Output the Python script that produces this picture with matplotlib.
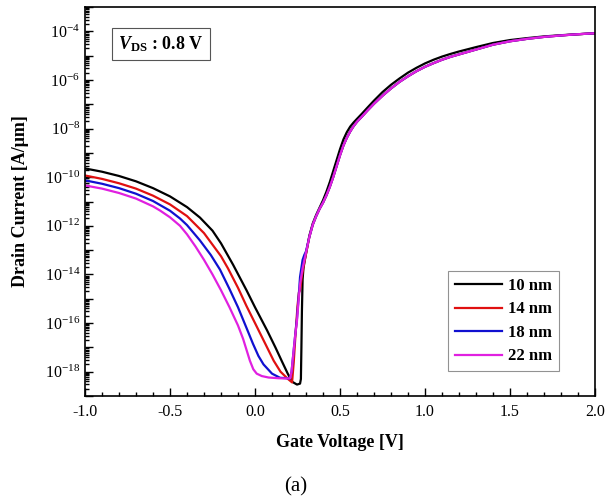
import numpy as np
import matplotlib
matplotlib.use("Agg")
import matplotlib.pyplot as plt
from matplotlib.ticker import LogLocator, FixedLocator, MultipleLocator, FuncFormatter, NullFormatter

plt.rcParams['font.family'] = ['Liberation Serif', 'DejaVu Serif']
plt.rcParams['mathtext.fontset'] = 'custom'
plt.rcParams['mathtext.rm'] = 'Liberation Serif'
plt.rcParams['mathtext.it'] = 'Liberation Serif:italic:bold'
plt.rcParams['mathtext.bf'] = 'Liberation Serif:bold'

# ---- data (gate voltage [V], log10 of drain current [A/um]) ----
v_10nm = [-1.0, -0.9, -0.8, -0.7, -0.6, -0.5, -0.4, -0.324, -0.25, -0.2, -0.129, -0.05, 0.0, 0.071,
          0.12, 0.16, 0.194, 0.22, 0.247, 0.265, 0.27, 0.273, 0.276, 0.28, 0.285, 0.292,
          0.30, 0.32, 0.34, 0.36, 0.38, 0.40, 0.42, 0.44, 0.46, 0.48, 0.50, 0.52, 0.54, 0.56, 0.58,
          0.60, 0.63, 0.66, 0.70, 0.75, 0.80, 0.85, 0.90, 0.95, 1.00, 1.05, 1.10, 1.15, 1.20, 1.30,
          1.40, 1.50, 1.60, 1.70, 1.80, 1.90, 2.00]
log_i_10nm = [-9.64, -9.775, -9.95, -10.17, -10.45, -10.79, -11.23, -11.66, -12.2, -12.72, -13.6, -14.65, -15.35, -16.3,
              -17.0, -17.6, -18.1, -18.42, -18.53, -18.49, -18.3, -17.0, -15.5, -14.2, -13.75, -13.45,
              -13.15, -12.4, -11.9, -11.55, -11.25, -10.95, -10.6, -10.2, -9.75, -9.3, -8.85, -8.45, -8.15, -7.92, -7.75,
              -7.6, -7.38, -7.15, -6.85, -6.5, -6.2, -5.94, -5.7, -5.5, -5.32, -5.17, -5.04, -4.93, -4.83, -4.65,
              -4.48, -4.36, -4.28, -4.21, -4.16, -4.12, -4.08]

v_14nm = [-1.0, -0.9, -0.8, -0.7, -0.6, -0.5, -0.4, -0.3, -0.2, -0.159, -0.1, -0.05, 0.0, 0.071,
          0.11, 0.15, 0.194, 0.218, 0.228, 0.238, 0.25, 0.258, 0.265, 0.275, 0.29,
          0.30, 0.32, 0.34, 0.36, 0.38, 0.40, 0.42, 0.44, 0.46, 0.48, 0.50, 0.52, 0.54, 0.56, 0.58,
          0.60, 0.63, 0.66, 0.70, 0.75, 0.80, 0.85, 0.90, 0.95, 1.00, 1.05, 1.10, 1.15, 1.20, 1.30,
          1.40, 1.50, 1.60, 1.70, 1.80, 1.90, 2.00]
log_i_14nm = [-9.93, -10.07, -10.25, -10.47, -10.76, -11.12, -11.6, -12.3, -13.25, -13.75, -14.55, -15.3, -16.0, -17.0,
              -17.55, -18.0, -18.3, -18.44, -17.6, -16.5, -15.3, -14.75, -14.65, -14.1, -13.5,
              -13.15, -12.45, -11.95, -11.6, -11.3, -11.05, -10.75, -10.4, -10.0, -9.55, -9.1, -8.7, -8.38, -8.12, -7.9,
              -7.72, -7.5, -7.27, -6.98, -6.65, -6.35, -6.08, -5.85, -5.64, -5.46, -5.31, -5.17, -5.05, -4.95, -4.75,
              -4.55, -4.41, -4.31, -4.23, -4.17, -4.12, -4.08]

v_18nm = [-1.0, -0.9, -0.8, -0.7, -0.6, -0.5, -0.441, -0.4, -0.324, -0.26, -0.206, -0.15, -0.1, -0.05, -0.012,
          0.02, 0.05, 0.1, 0.147, 0.206, 0.215, 0.225, 0.235, 0.247, 0.256, 0.265, 0.28, 0.29,
          0.30, 0.32, 0.34, 0.36, 0.38, 0.40, 0.42, 0.44, 0.46, 0.48, 0.50, 0.52, 0.54, 0.56, 0.58,
          0.60, 0.63, 0.66, 0.70, 0.75, 0.80, 0.85, 0.90, 0.95, 1.00, 1.05, 1.10, 1.15, 1.20, 1.30,
          1.40, 1.50, 1.60, 1.70, 1.80, 1.90, 2.00]
log_i_18nm = [-10.13, -10.27, -10.45, -10.68, -10.98, -11.38, -11.7, -11.97, -12.6, -13.2, -13.8, -14.6, -15.35, -16.2, -16.85,
              -17.35, -17.7, -18.08, -18.25, -18.28, -18.0, -17.3, -16.6, -15.8, -15.0, -14.1, -13.4, -13.2,
              -13.05, -12.45, -11.95, -11.6, -11.3, -11.05, -10.75, -10.4, -10.0, -9.55, -9.1, -8.7, -8.38, -8.12, -7.9,
              -7.72, -7.5, -7.27, -6.98, -6.65, -6.35, -6.08, -5.85, -5.64, -5.46, -5.31, -5.17, -5.05, -4.95, -4.75,
              -4.55, -4.41, -4.31, -4.23, -4.17, -4.12, -4.08]

v_22nm = [-1.0, -0.9, -0.8, -0.7, -0.6, -0.559, -0.5, -0.441, -0.4, -0.35, -0.3, -0.25, -0.2, -0.15, -0.1,
          -0.07, -0.05, -0.03, -0.01, 0.01, 0.04, 0.08, 0.14, 0.206, 0.215, 0.225, 0.235, 0.247, 0.256,
          0.265, 0.28, 0.30, 0.32, 0.34, 0.36, 0.38, 0.40, 0.42, 0.44, 0.46, 0.48, 0.50, 0.52, 0.54, 0.56, 0.58,
          0.60, 0.63, 0.66, 0.70, 0.75, 0.80, 0.85, 0.90, 0.95, 1.00, 1.05, 1.10, 1.15, 1.20, 1.30,
          1.40, 1.50, 1.60, 1.70, 1.80, 1.90, 2.00]
log_i_22nm = [-10.34, -10.47, -10.65, -10.88, -11.2, -11.37, -11.65, -12.0, -12.35, -12.85, -13.4, -14.0, -14.65, -15.35, -16.1,
              -16.65, -17.1, -17.55, -17.9, -18.08, -18.18, -18.24, -18.27, -18.28, -18.0, -17.3, -16.6, -15.9, -15.1,
              -14.4, -13.75, -13.1, -12.45, -11.95, -11.6, -11.3, -11.05, -10.75, -10.4, -10.0, -9.55, -9.1, -8.7, -8.38, -8.12, -7.9,
              -7.72, -7.5, -7.27, -6.98, -6.65, -6.35, -6.08, -5.85, -5.64, -5.46, -5.31, -5.17, -5.05, -4.95, -4.75,
              -4.55, -4.41, -4.31, -4.23, -4.17, -4.12, -4.08]

labels = ['10 nm', '14 nm', '18 nm', '22 nm']
colors = ['#000000', '#e01010', '#1010d0', '#e020e0']

series = [(v_10nm, log_i_10nm), (v_14nm, log_i_14nm), (v_18nm, log_i_18nm), (v_22nm, log_i_22nm)]

fig = plt.figure(figsize=(6.06, 5.01), dpi=100)
ax = fig.add_axes([85/606, 1-396/501, (595-85)/606, (396-7)/501])

for (v, li), lab, c in zip(series, labels, colors):
    ax.plot(v, 10.0 ** np.array(li), color=c, lw=1.6, label=lab, solid_joinstyle='round')

ax.set_yscale('log')
ax.set_xlim(-1.0, 2.0)
ax.set_ylim(1e-19, 1e-3)

ax.xaxis.set_major_locator(MultipleLocator(0.5))
ax.xaxis.set_minor_locator(MultipleLocator(0.1))
ax.xaxis.set_major_formatter(FuncFormatter(lambda x, p: f"{x:.1f}"))

ax.yaxis.set_major_locator(FixedLocator([10.0 ** e for e in range(-19, -2)]))
ax.yaxis.set_minor_locator(LogLocator(base=10, subs=np.arange(2, 10), numticks=100))
ax.yaxis.set_minor_formatter(NullFormatter())

def yfmt(y, p):
    e = int(round(np.log10(y)))
    if e % 2 == 0 and -18 <= e <= -4:
        return r"$\mathdefault{10^{%d}}$" % e
    return ""
ax.yaxis.set_major_formatter(FuncFormatter(yfmt))

ax.tick_params(which='both', direction='in', top=False, right=False, labelsize=11.5, width=1.0)
ax.tick_params(which='major', length=6)
ax.tick_params(which='minor', length=3)
ax.tick_params(axis='x', pad=6)
for s in ax.spines.values():
    s.set_linewidth(1.2)

ax.set_xlabel('Gate Voltage [V]', fontsize=13, fontweight='bold', labelpad=10)
ax.set_ylabel('Drain Current [A/\u03bcm]', fontsize=13, fontweight='bold', labelpad=11)

ax.text((118-85)/510, 1-(44-7)/389, r"$\mathit{V}_{\mathbf{DS}}$ : 0.8 V", transform=ax.transAxes,
        fontsize=13, fontweight='bold', va='center', ha='left',
        bbox=dict(boxstyle='square,pad=0.35', fc='white', ec='#555555', lw=0.8))

leg = ax.legend(loc='lower right', bbox_to_anchor=((559-85)/510, (396-371)/389), borderaxespad=0,
                frameon=True, fancybox=False,
                edgecolor='#777777', prop={'weight': 'bold', 'size': 12},
                handlelength=2.8, handletextpad=0.4, labelspacing=0.45, borderpad=0.4)
leg.get_frame().set_linewidth(0.8)

fig.text(296/606, 1-487/501, '(a)', fontsize=15, ha='center', va='center')

fig.savefig('out.png', dpi=100)
